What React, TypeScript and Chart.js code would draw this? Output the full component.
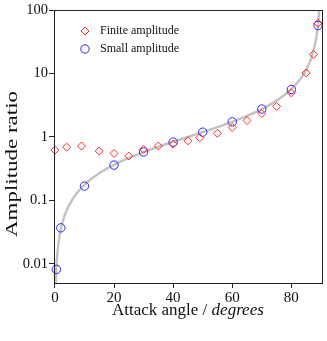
import React, { useEffect, useRef } from "react";
import { Chart, registerables } from "chart.js";

Chart.register(...registerables);

// Finite amplitude (red diamonds)
const finiteAngles = [0, 4, 9, 15, 20, 25, 30, 35, 40, 45, 49, 55, 60, 65, 70, 75, 80, 85, 87.5, 89];
const finiteRatios = [0.62, 0.69, 0.72, 0.6, 0.55, 0.5, 0.64, 0.72, 0.77, 0.87, 0.97, 1.14, 1.41, 1.81, 2.34, 3.03, 4.94, 10.2, 20.0, 62];

// Small amplitude (blue circles)
const smallAngles = [0.5, 2, 10, 20, 30, 40, 50, 60, 70, 80, 89];
const smallRatios = [0.0082, 0.037, 0.168, 0.36, 0.58, 0.83, 1.19, 1.73, 2.75, 5.6, 57];

// Theory curve (grey)
const curveAngles = [0.25, 0.5, 1, 1.5, 2, 3, 4, 5, 7, 10, 15, 20, 25, 30, 35, 40, 45, 50, 55, 60, 65, 70, 75, 80, 83, 85, 86, 87, 88, 88.5, 89, 89.5];
const curveRatios = [0.004363, 0.008727, 0.017455, 0.026186, 0.034921, 0.052408, 0.069927, 0.087489, 0.122785, 0.176327, 0.267949, 0.36397, 0.466308, 0.57735, 0.700208, 0.8391, 1, 1.191754, 1.428148, 1.732051, 2.144507, 2.747477, 3.732051, 5.671282, 8.144346, 11.430052, 14.300666, 19.081137, 28.636253, 38.188459, 57.289962, 114.58865];

const xTicks = [0, 20, 40, 60, 80];
const yTicks = [0.01, 0.1, 1, 10, 100];

const legendLabels = ["Finite amplitude", "Small amplitude"];
const xTitleMain = "Attack angle / ";
const xTitleItalic = "degrees";
const yTitle = "Amplitude ratio";

const RED = "rgb(255,40,40)";
const BLUE = "rgb(40,40,255)";
const GREY = "rgb(195,195,195)";
const SERIF = "'Liberation Serif', 'Times New Roman', serif";

export default function App() {
  const ref = useRef<HTMLCanvasElement | null>(null);

  useEffect(() => {
    document.body.style.margin = "0";
    const canvas = ref.current;
    if (!canvas) return;

    const decor = {
      id: "decor",
      afterDraw(chart: any) {
        const { ctx, chartArea } = chart;
        const { left, top, right, bottom } = chartArea;
        ctx.save();
        // frame
        ctx.strokeStyle = "#222";
        ctx.lineWidth = 1;
        ctx.strokeRect(Math.round(left) + 0.5, Math.round(top) + 0.5, Math.round(right - left), Math.round(bottom - top));

        // legend
        ctx.lineWidth = 1;
        const lx = left + 31;
        const rows = [top + 21, top + 39];
        // diamond
        ctx.strokeStyle = RED;
        ctx.beginPath();
        const r = 4;
        ctx.moveTo(lx, rows[0] - r);
        ctx.lineTo(lx + r, rows[0]);
        ctx.lineTo(lx, rows[0] + r);
        ctx.lineTo(lx - r, rows[0]);
        ctx.closePath();
        ctx.stroke();
        // circle
        ctx.strokeStyle = BLUE;
        ctx.beginPath();
        ctx.arc(lx, rows[1], 4.2, 0, Math.PI * 2);
        ctx.stroke();
        ctx.fillStyle = "#111";
        ctx.font = `12px ${SERIF}`;
        ctx.textBaseline = "middle";
        ctx.textAlign = "left";
        ctx.fillText(legendLabels[0], left + 46, rows[0]);
        ctx.fillText(legendLabels[1], left + 46, rows[1]);

        // x title
        ctx.textBaseline = "alphabetic";
        ctx.font = `17px ${SERIF}`;
        const w1 = ctx.measureText(xTitleMain).width;
        ctx.font = `italic 17px ${SERIF}`;
        const w2 = ctx.measureText(xTitleItalic).width;
        const cx = (left + right) / 2;
        const sx = cx - (w1 + w2) / 2;
        ctx.font = `17px ${SERIF}`;
        ctx.fillText(xTitleMain, sx, bottom + 32);
        ctx.font = `italic 17px ${SERIF}`;
        ctx.fillText(xTitleItalic, sx + w1, bottom + 32);

        // y title
        ctx.font = `17px ${SERIF}`;
        const wy = ctx.measureText(yTitle).width;
        ctx.translate(17, 164);
        ctx.rotate(-Math.PI / 2);
        ctx.scale(146 / wy, 1);
        ctx.textAlign = "center";
        ctx.fillText(yTitle, 0, 0);
        ctx.restore();
      },
    };

    const chart = new Chart(canvas, {
      type: "scatter",
      data: {
        datasets: [
          {
            label: legendLabels[0],
            data: finiteAngles.map((x, i) => ({ x, y: finiteRatios[i] })),
            pointStyle: "rectRot",
            pointRadius: 4,
            borderColor: RED,
            backgroundColor: "rgba(0,0,0,0)",
            borderWidth: 1,
            clip: false as any,
          },
          {
            label: legendLabels[1],
            data: smallAngles.map((x, i) => ({ x, y: smallRatios[i] })),
            pointStyle: "circle",
            pointRadius: 4.2,
            borderColor: BLUE,
            backgroundColor: "rgba(0,0,0,0)",
            borderWidth: 1,
            clip: false as any,
          },
          {
            label: "theory",
            type: "line" as any,
            data: curveAngles.map((x, i) => ({ x, y: curveRatios[i] })),
            borderColor: GREY,
            borderWidth: 2.5,
            pointRadius: 0,
            cubicInterpolationMode: "monotone",
            fill: false,
          } as any,
        ],
      },
      options: {
        animation: false,
        responsive: false,
        maintainAspectRatio: false,
        layout: { padding: { top: 10, right: 4, left: 0, bottom: 0 } },
        plugins: { legend: { display: false }, tooltip: { enabled: false } },
        scales: {
          x: {
            type: "linear",
            min: -0.3,
            max: 90.3,
            afterBuildTicks: (s: any) => {
              s.ticks = xTicks.map((v) => ({ value: v }));
            },
            afterFit: (s: any) => {
              s.height = 58;
            },
            grid: { display: true, drawOnChartArea: false, tickLength: 5, color: "#222" },
            border: { display: true, color: "#222" },
            ticks: { color: "#111", padding: 1, font: { family: SERIF, size: 15 }, maxRotation: 0 },
          },
          y: {
            type: "logarithmic",
            min: 0.005,
            max: 100,
            afterBuildTicks: (s: any) => {
              s.ticks = yTicks.map((v) => ({ value: v }));
            },
            afterFit: (s: any) => {
              s.width = 54;
            },
            grid: { display: true, drawOnChartArea: false, tickLength: 5, color: "#222" },
            border: { display: true, color: "#222" },
            ticks: {
              color: "#111",
              padding: 1,
              font: { family: SERIF, size: 14.5 },
              callback: (v: any) => String(v),
            },
          },
        },
      },
      plugins: [decor],
    });
    return () => chart.destroy();
  }, []);

  return (
    <div style={{ width: 327, height: 341 }}>
      <canvas ref={ref} width={327} height={341} style={{ display: "block" }} />
    </div>
  );
}
